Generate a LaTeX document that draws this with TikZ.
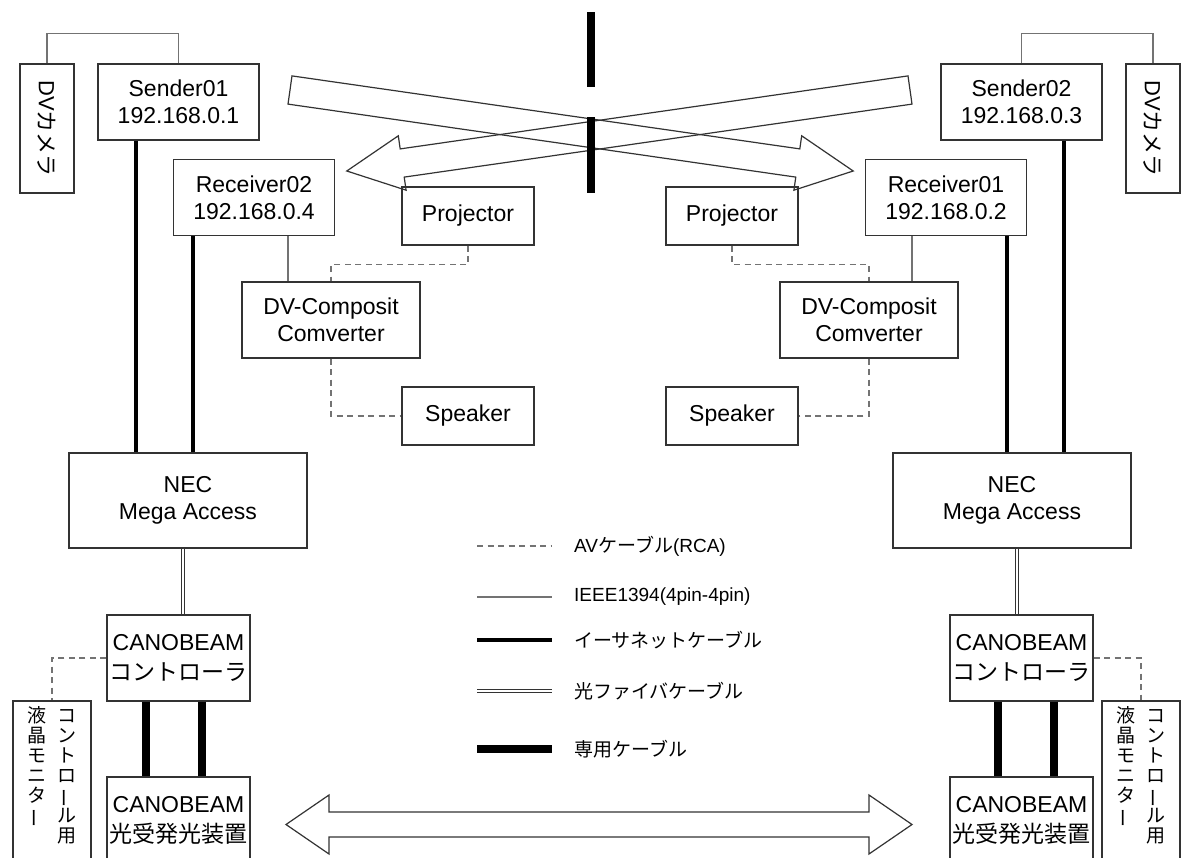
\documentclass[tikz,border=0pt]{standalone}
\usepackage{fontspec}
\setmainfont{Liberation Sans}
\newfontfamily\jpfont{Noto Sans CJK JP}
\usepackage{tikz}
\usetikzlibrary{calc}
\definecolor{figline}{gray}{0.2}
\definecolor{figgray}{gray}{0.45}
% vertical (tategaki) column and vertical long-vowel mark
\newcommand{\tate}[1]{\vtop{\baselineskip=20pt\lineskiplimit=-20pt\halign{\hfil##\hfil\cr#1\crcr}}}
\newcommand{\chouon}{\rotatebox[origin=c]{90}{ー}}

\begin{document}
\begin{tikzpicture}[x=1pt,y=-1pt,
  box/.style={draw=figline,line width=1.2pt,inner sep=2pt,align=center,
              font=\fontsize{23}{27}\selectfont},
  hostbox/.style={box,minimum width=161pt,minimum height=76pt},
  cambox/.style={box,minimum width=54pt,minimum height=129pt,font=\fontsize{22}{26}\selectfont},
  projbox/.style={box,minimum width=132pt,minimum height=58pt},
  convbox/.style={box,minimum width=178pt,minimum height=76pt},
  necbox/.style={box,minimum width=238pt,minimum height=95pt},
  beambox/.style={box,minimum width=143pt,minimum height=86pt,
                  font=\fontsize{23}{30}\selectfont},
  monbox/.style={box,minimum width=78pt,minimum height=170pt},
  montext/.style={anchor=north,inner sep=0pt,font=\jpfont\fontsize{19}{20}\selectfont},
  avcable/.style={draw=figgray,line width=1.3pt,dash pattern=on 6pt off 4.5pt},
  ieee/.style={draw=figgray,line width=1.6pt},
  ether/.style={draw=black,line width=3.8pt},
  fiber/.style={draw=figline,line width=1.1pt,double=white,double distance=2.2pt},
  special/.style={draw=black,line width=8.5pt},
  wall/.style={draw=black,line width=8pt},
  bigarrow/.style={draw=figline,line width=1.2pt},
  legend/.style={anchor=west,inner sep=2pt,font=\fontsize{19}{22}\selectfont}
]
\useasboundingbox (0,0) rectangle (1181,857);
\fill[white] (0,0) rectangle (1181,857);

% left site
\node[cambox] (camL) at (47,128.5) {\rotatebox{-90}{DV{\jpfont カメラ}}};
\node[hostbox] (send1) at (178.5,102) {Sender01\\192.168.0.1};
\node[hostbox] (recv2) at (254,197.5) {Receiver02\\192.168.0.4};
\node[projbox] (projL) at (468,216) {Projector};
\node[convbox] (dvcL) at (331,320) {DV-Composit\\Comverter};
\node[projbox] (spkL) at (468,416) {Speaker};
\node[necbox] (necL) at (188,500.5) {NEC\\Mega Access};
\node[beambox] (ctrlL) at (178.5,658) {CANOBEAM\\{\jpfont コントローラ}};
\node[beambox] (beamL) at (178.5,820) {CANOBEAM\\{\jpfont 光受発光装置}};
\node[monbox] (monL) at (52,786) {};
\node[montext] (monLtxt) at (52,706)
  {\tate{液\cr 晶\cr モ\cr ニ\cr タ\cr \chouon}\hspace{11pt}\tate{コ\cr ン\cr ト\cr ロ\cr \chouon\cr ル\cr 用}};

% right site
\node[cambox] (camR) at (1153,128.5) {\rotatebox{-90}{DV{\jpfont カメラ}}};
\node[hostbox] (send2) at (1021.5,102) {Sender02\\192.168.0.3};
\node[hostbox] (recv1) at (946,197.5) {Receiver01\\192.168.0.2};
\node[projbox] (projR) at (732,216) {Projector};
\node[convbox] (dvcR) at (869,320) {DV-Composit\\Comverter};
\node[projbox] (spkR) at (732,416) {Speaker};
\node[necbox] (necR) at (1012,500.5) {NEC\\Mega Access};
\node[beambox] (ctrlR) at (1021.5,658) {CANOBEAM\\{\jpfont コントローラ}};
\node[beambox] (beamR) at (1021.5,820) {CANOBEAM\\{\jpfont 光受発光装置}};
\node[monbox] (monR) at (1141,786) {};
\node[montext] (monRtxt) at (1141,706)
  {\tate{液\cr 晶\cr モ\cr ニ\cr タ\cr \chouon}\hspace{11pt}\tate{コ\cr ン\cr ト\cr ロ\cr \chouon\cr ル\cr 用}};

% cables, left
\draw[ieee] (camL.north) -- ++(0,-30) -| (send1.north);
\draw[ether] ([xshift=-42.5pt]send1.south) -- ([xshift=-42.5pt]send1.south |- necL.north);
\draw[ether] ([xshift=-61pt]recv2.south) -- ([xshift=-61pt]recv2.south |- necL.north);
\draw[ieee] ([xshift=34pt]recv2.south) -- ([xshift=34pt]recv2.south |- dvcL.north);
\draw[avcable] (projL.south) -- ++(0,19) -| (dvcL.north);
\draw[avcable] (dvcL.south) |- (spkL.west);
\draw[fiber] ([xshift=-5pt]necL.south) -- ([xshift=-5pt]necL.south |- ctrlL.north);
\draw[special] ([xshift=-32.5pt]ctrlL.south) -- ([xshift=-32.5pt]ctrlL.south |- beamL.north);
\draw[special] ([xshift=23.5pt]ctrlL.south) -- ([xshift=23.5pt]ctrlL.south |- beamL.north);
\draw[avcable] (ctrlL.west) -| (monL.north);

% cables, right
\draw[ieee] (camR.north) -- ++(0,-30) -| (send2.north);
\draw[ether] ([xshift=42.5pt]send2.south) -- ([xshift=42.5pt]send2.south |- necR.north);
\draw[ether] ([xshift=61pt]recv1.south) -- ([xshift=61pt]recv1.south |- necR.north);
\draw[ieee] ([xshift=-34pt]recv1.south) -- ([xshift=-34pt]recv1.south |- dvcR.north);
\draw[avcable] (projR.south) -- ++(0,19) -| (dvcR.north);
\draw[avcable] (dvcR.south) |- (spkR.east);
\draw[fiber] ([xshift=5pt]necR.south) -- ([xshift=5pt]necR.south |- ctrlR.north);
\draw[special] ([xshift=32.5pt]ctrlR.south) -- ([xshift=32.5pt]ctrlR.south |- beamR.north);
\draw[special] ([xshift=-23.5pt]ctrlR.south) -- ([xshift=-23.5pt]ctrlR.south |- beamR.north);
\draw[avcable] (ctrlR.east) -| (monR.north);

% crossing video arrows and the wall
\draw[bigarrow] (292.0,75.9) -- (799.8,148.9) -- (801.7,135.8) -- (853.2,171.0)
  -- (793.9,190.2) -- (795.8,177.1) -- (288.0,104.1) -- cycle;
\draw[bigarrow] (908.0,75.9) -- (400.2,148.9) -- (398.3,135.8) -- (346.8,171.0)
  -- (406.1,190.2) -- (404.2,177.1) -- (912.0,104.1) -- cycle;
\draw[wall] (591,12) -- (591,87);
\draw[wall] (591,117) -- (591,193);

% optical link
\draw[bigarrow] (286,824.5) -- (329,795) -- (329,812) -- (869,812) -- (869,795)
  -- (912,824.5) -- (869,854) -- (869,837) -- (329,837) -- (329,854) -- cycle;

% legend
\node[legend] (lgav) at (572,546) {AV{\jpfont ケーブル}(RCA)};
\node[legend] (lgieee) at (572,597) {IEEE1394(4pin-4pin)};
\node[legend] (lgeth) at (572,640) {\jpfont イーサネットケーブル};
\node[legend] (lgfib) at (572,691) {\jpfont 光ファイバケーブル};
\node[legend] (lgspc) at (572,749) {\jpfont 専用ケーブル};
\foreach \s/\n in {avcable/lgav,ieee/lgieee,ether/lgeth,fiber/lgfib,special/lgspc}
  \draw[\s] ([xshift=-95pt]\n.west) -- ([xshift=-20pt]\n.west);
\end{tikzpicture}
\end{document}
